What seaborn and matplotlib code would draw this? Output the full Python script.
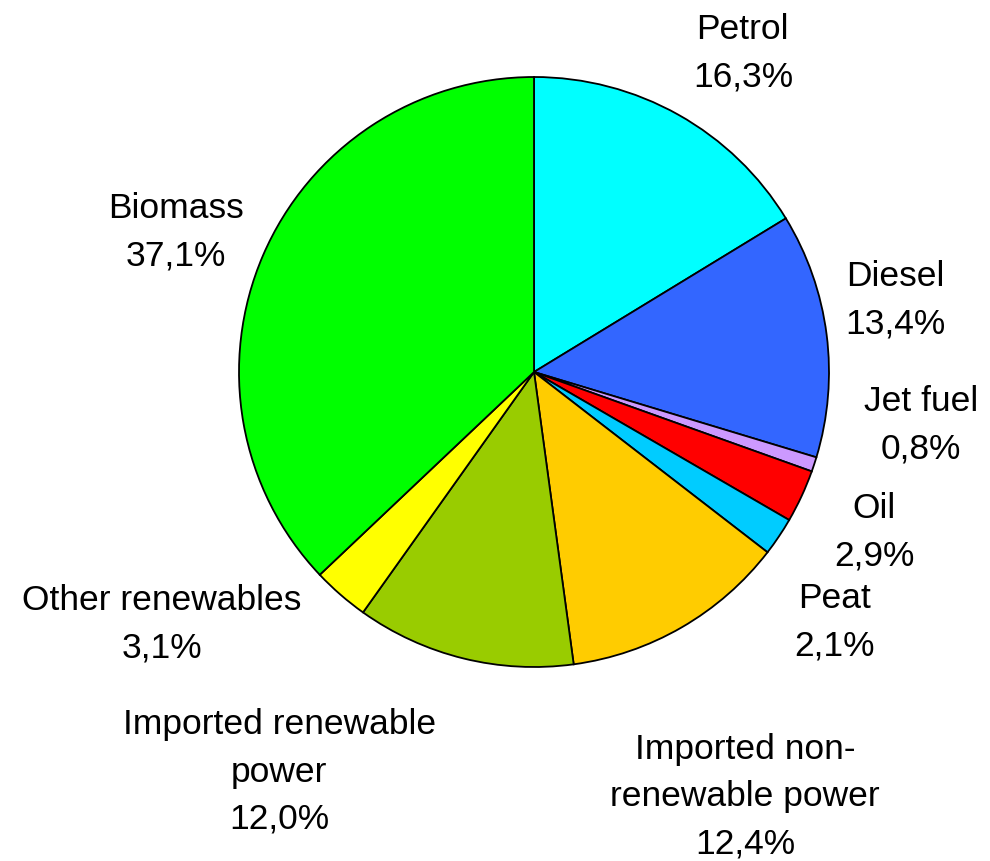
import matplotlib
matplotlib.use("Agg")
import matplotlib.pyplot as plt
import seaborn as sns

# shares of total energy use, clockwise from 12 o'clock
categories = ["Petrol", "Diesel", "Jet fuel", "Oil", "Peat",
              "Imported non-\nrenewable power", "Imported renewable\npower",
              "Other renewables", "Biomass"]
shares = [16.3, 13.4, 0.8, 2.9, 2.1, 12.4, 12.0, 3.1, 37.1]
colors = ["#00FFFF", "#3366FF", "#CC99FF", "#FF0000", "#00CCFF",
          "#FFCC00", "#99CC00", "#FFFF00", "#00FF00"]

# label anchor points, in units of the pie radius
label_pos = [(0.708, 1.085), (1.224, 0.247), (1.312, -0.176), (1.153, -0.539),
             (1.020, -0.844), (0.715, -1.437), (-0.864, -1.353),
             (-1.261, -0.851), (-1.214, 0.478)]

sns.set_theme(style="white")
plt.rcParams["font.family"] = ["Liberation Sans", "DejaVu Sans"]

fig = plt.figure(figsize=(9.9, 8.62), dpi=100)
ax = fig.add_axes([0, 0, 1, 1])

ax.pie(shares, colors=colors, startangle=90, counterclock=False, radius=1.0,
       wedgeprops=dict(edgecolor="black", linewidth=1.3))

for name, val, (x, y) in zip(categories, shares, label_pos):
    txt = f"{name}\n{val:.1f}%".replace(".", ",")
    ax.text(x, y, txt, ha="center", va="center", fontsize=25.5,
            linespacing=1.55, color="black", multialignment="center")

ax.set_xlim(-534 / 295, (990 - 534) / 295)
ax.set_ylim(-(862 - 373) / 295, 373 / 295)
ax.set_aspect("equal")
ax.axis("off")

fig.savefig("out.png", dpi=100, facecolor="white")
